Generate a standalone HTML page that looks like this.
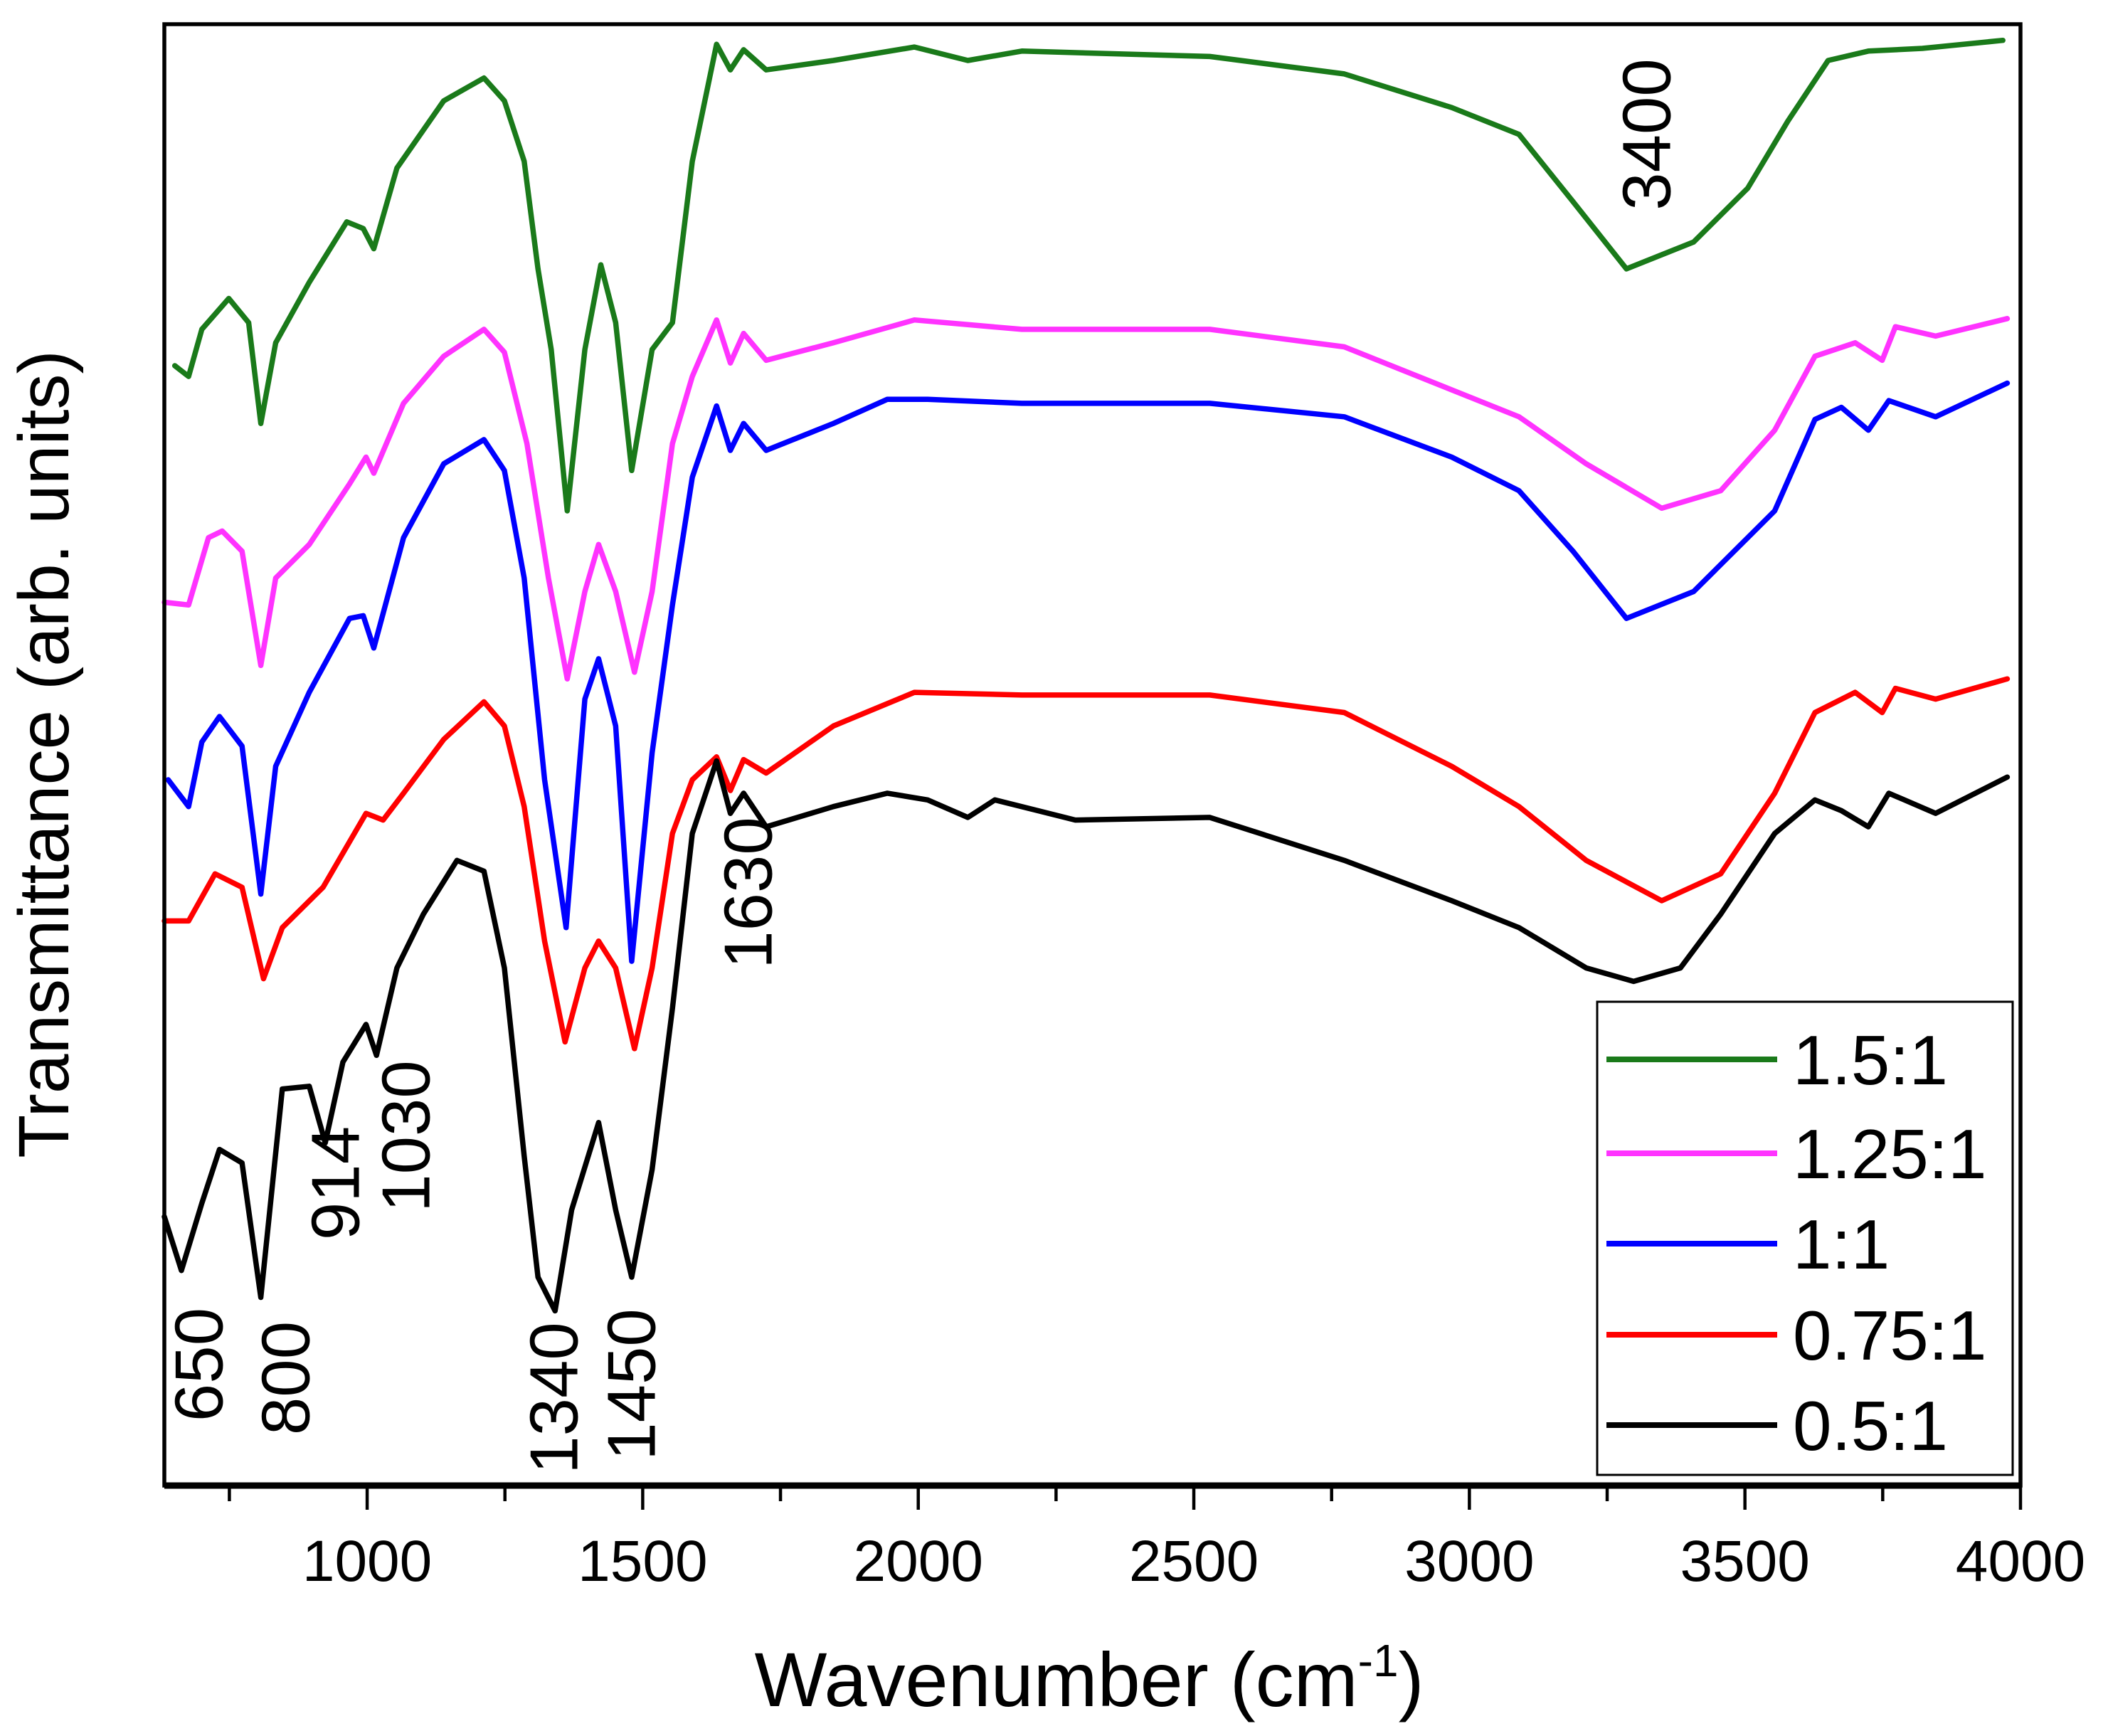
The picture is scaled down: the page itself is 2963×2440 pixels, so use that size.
<!DOCTYPE html>
<html><head><meta charset="utf-8"><style>
html,body{margin:0;padding:0;background:#fff;}
svg{display:block;font-family:"Liberation Sans",Arial,sans-serif;}
</style></head><body>
<svg id="chart" width="2963" height="2440" viewBox="0 0 2963 2440" xmlns="http://www.w3.org/2000/svg">
<rect width="2963" height="2440" fill="#fff"/>
<g id="series"></g>
<g id="axes"></g>
<g id="annot"></g>
<g id="legend"></g>
</svg>
<script>
const xTicks = [1000,1500,2000,2500,3000,3500,4000];
const xMinor = [750,1250,1750,2250,2750,3250,3750];
const names = ["1.5:1","1.25:1","1:1","0.75:1","0.5:1"];
const colors = ["#1a7a1a","#ff33ff","#0000ff","#ff0000","#000000"];
const wnGreen = [651,676,700,749,785,807,834,895,963,993,1012,1054,1139,1212,1249,1285,1310,1334,1363,1395,1424,1451,1480,1517,1554,1590,1634,1659,1683,1724,1846,1993,2090,2188,2529,2773,2968,3090,3188,3285,3407,3505,3578,3651,3724,3822,3968];
const tGreen = [833,825,860,883,865,790,850,895,940,935,920,980,1030,1047,1030,985,905,845,725,845,908,865,755,845,865,985,1072,1053,1068,1053,1060,1070,1060,1067,1063,1050,1025,1005,955,905,925,965,1015,1060,1067,1069,1075];
const wnMagenta = [632,676,712,737,773,807,834,895,968,998,1012,1066,1139,1212,1249,1290,1329,1363,1395,1420,1451,1485,1517,1554,1590,1634,1659,1683,1724,1846,1993,2188,2529,2773,2968,3090,3212,3349,3456,3554,3627,3700,3749,3773,3846,3976];
const tMagenta = [657,655,705,710,695,610,675,700,745,765,753,805,840,860,843,775,675,600,665,700,665,605,665,775,825,867,835,857,837,850,867,860,860,847,815,795,760,727,740,785,840,850,837,862,855,868];
const wnBlue = [639,676,700,732,773,807,834,895,968,993,1012,1066,1139,1212,1249,1285,1322,1361,1395,1420,1451,1480,1517,1554,1590,1634,1659,1683,1724,1846,1944,2017,2188,2529,2773,2968,3090,3188,3285,3407,3554,3627,3675,3724,3761,3846,3976];
const tBlue = [525,505,553,572,550,440,535,590,645,647,623,705,760,778,755,675,525,415,585,615,565,390,545,655,750,803,770,790,770,790,808,808,805,805,795,765,740,695,645,665,725,793,802,785,807,795,820];
const wnRed = [632,676,724,773,812,846,920,998,1029,1066,1139,1212,1249,1285,1322,1359,1395,1420,1451,1485,1517,1554,1590,1634,1659,1683,1724,1846,1993,2188,2529,2773,2968,3090,3212,3349,3456,3554,3627,3700,3749,3773,3846,3976];
const tRed = [420,420,455,445,377,415,445,500,495,515,555,583,565,505,405,330,385,405,385,325,385,485,525,542,517,540,530,565,590,588,588,575,535,505,465,435,455,515,575,590,575,593,585,600];
const wnBlack = [632,663,700,732,773,807,846,895,924,956,998,1017,1054,1102,1163,1212,1249,1285,1310,1341,1371,1420,1451,1480,1517,1554,1590,1634,1659,1683,1724,1846,1944,2017,2090,2139,2285,2529,2773,2871,2968,3090,3212,3298,3383,3456,3554,3627,3675,3724,3761,3846,3976];
const tBlack = [200,160,210,250,240,140,295,297,255,315,343,320,385,425,465,457,385,245,155,130,205,270,205,155,235,355,485,539,500,515,490,505,515,510,497,510,495,497,465,450,435,415,385,375,385,425,485,510,502,490,515,500,527];
const annLabels = ["650","800","914","1030","1340","1450","1630","3400"];

const L=231,R=2840,T=34,B=2088,XMIN=632,XMAX=4000,YMIN=0,YMAX=1087;
const sx=v=>L+(v-XMIN)/(XMAX-XMIN)*(R-L);
const sy=v=>B-(v-YMIN)/(YMAX-YMIN)*(B-T);
const NS="http://www.w3.org/2000/svg";
function mk(tag,attrs,parent){const e=document.createElementNS(NS,tag);for(const k in attrs)e.setAttribute(k,attrs[k]);parent.appendChild(e);return e;}

const sets=[[wnGreen,tGreen],[wnMagenta,tMagenta],[wnBlue,tBlue],[wnRed,tRed],[wnBlack,tBlack]];
const sg=document.getElementById('series');
sets.forEach((s,i)=>{
  const d=s[0].map((w,j)=>(j?'L':'M')+sx(w).toFixed(1)+' '+sy(s[1][j]).toFixed(1)).join(' ');
  const p=mk('path',{d:d,fill:'none',stroke:colors[i],'stroke-width':7.5,'stroke-linejoin':'round','stroke-linecap':'round'},sg);
  
  
});

const ax=document.getElementById('axes');
const frame=mk('rect',{x:L,y:T,width:R-L,height:B-T,fill:'none',stroke:'#000','stroke-width':5.5},ax);


const xl=mk('line',{x1:L,y1:B,x2:R,y2:B,stroke:'#000','stroke-width':9},ax);


xTicks.forEach(t=>{
  const tk=mk('line',{x1:sx(t),y1:B,x2:sx(t),y2:B+34,stroke:'#000','stroke-width':4.5},ax);
  
  
  const tl=mk('text',{x:sx(t),y:2222,'font-size':82,'text-anchor':'middle',fill:'#000'},ax);
  tl.textContent=t;
  
  
});
xMinor.forEach(t=>{
  const tk=mk('line',{x1:sx(t),y1:B,x2:sx(t),y2:B+22,stroke:'#000','stroke-width':4.5},ax);
  
  
});
const xt=mk('text',{x:1531,y:2398,'font-size':108,'text-anchor':'middle',fill:'#000'},ax);
xt.innerHTML='Wavenumber (cm<tspan dy="-42" font-size="64">-1</tspan><tspan dy="42">)</tspan>';


const yt=mk('text',{x:0,y:0,'font-size':100,'text-anchor':'middle',fill:'#000',transform:'translate(96,1060) rotate(-90)'},ax);
yt.textContent='Transmittance (arb. units)';



const annPos=[[280,1918],[402,1937],[472,1663],[571,1597],[779,1965],[888,1946],[1052,1255],[2315,189]];
const an=document.getElementById('annot');
annLabels.forEach((s,i)=>{
  const t=mk('text',{x:0,y:0,'font-size':96,'text-anchor':'middle','dominant-baseline':'central',fill:'#000',transform:`translate(${annPos[i][0]},${annPos[i][1]}) rotate(-90)`},an);
  t.textContent=s;
  
  
});

const lg=document.getElementById('legend');
const lb=mk('rect',{x:2245,y:1408,width:584,height:665,fill:'#fff',stroke:'#000','stroke-width':3},lg);


const ly=[1489,1621,1748,1876,2003];
names.forEach((n,i)=>{
  const ln=mk('line',{x1:2258,y1:ly[i],x2:2498,y2:ly[i],stroke:colors[i],'stroke-width':8},lg);
  
  
  const tx=mk('text',{x:2520,y:ly[i]+35,'font-size':98,fill:'#000'},lg);
  tx.textContent=n;
  
  
});
</script>
</body></html>
